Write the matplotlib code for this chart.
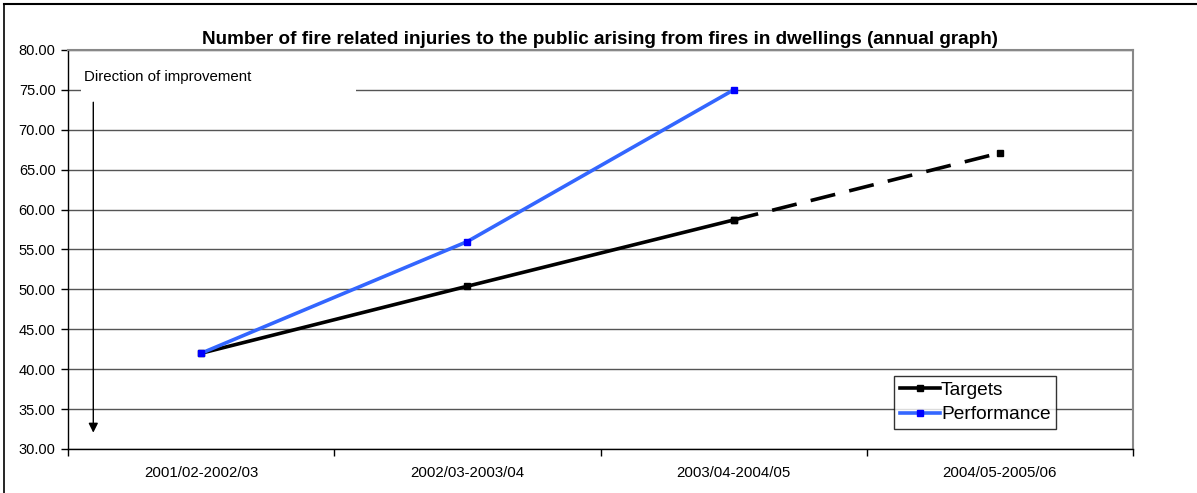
import matplotlib.pyplot as plt
from matplotlib.lines import Line2D
from matplotlib.patches import Rectangle

plt.rcParams['font.family'] = ['Liberation Sans', 'DejaVu Sans']

periods = ['2001/02-2002/03', '2002/03-2003/04', '2003/04-2004/05', '2004/05-2005/06']
targets = [42.0, 50.4, 58.7, 67.1]
performance = [42.0, 56.0, 75.0]
y_ticks = [30, 35, 40, 45, 50, 55, 60, 65, 70, 75, 80]

fig = plt.figure(figsize=(11.97, 4.93), dpi=100)
ax = fig.add_axes([68 / 1197, 1 - 449 / 493, 1065 / 1197, 399 / 493])

x = list(range(len(periods)))

# targets: solid up to the current year, dashed afterwards
ax.plot(x[:3], targets[:3], color='black', lw=2.6, marker='s', ms=5,
        zorder=4)
ax.plot(x[2:], targets[2:], color='black', lw=2.6, marker='s', ms=5,
        dashes=(7, 4), zorder=4)
ax.plot(x[:3], performance, color='#3366FF', lw=2.6, marker='s', ms=5,
        mfc='#0000FF', mec='#0000FF', zorder=5)

ax.set_xlim(-0.5, 3.5)
ax.set_ylim(30, 80)
ax.set_yticks(y_ticks)
ax.set_yticklabels(['%.2f' % v for v in y_ticks], fontsize=10.5)
ax.set_xticks(x)
ax.set_xticklabels(periods, fontsize=10.8)
ax.set_xticks([-0.5, 0.5, 1.5, 2.5, 3.5], minor=True)
ax.tick_params(axis='x', which='major', length=0, pad=12)
ax.tick_params(axis='x', which='minor', length=5, direction='out', width=1)
ax.tick_params(axis='y', length=5, direction='out', width=1, pad=4)

ax.grid(axis='y', color='#555555', lw=1)
ax.set_axisbelow(True)
for side in ['top', 'right']:
    ax.spines[side].set_color('#888888')
    ax.spines[side].set_linewidth(1.5)
for side in ['left', 'bottom']:
    ax.spines[side].set_color('black')
    ax.spines[side].set_linewidth(1)

ax.set_title('Number of fire related injuries to the public arising from fires in dwellings (annual graph)',
             fontsize=13.6, fontweight='bold', pad=4)

# direction of improvement note
ax.add_patch(Rectangle((-0.45, 73.2), 1.03, 4.0, facecolor='white',
                       edgecolor='none', zorder=2))
ax.text(-0.44, 75.8, 'Direction of improvement', fontsize=10.8, va='bottom',
        zorder=3)
ax.annotate('', xy=(-0.405, 31.7), xytext=(-0.405, 73.8),
            arrowprops=dict(arrowstyle='-|>', color='black', lw=1,
                            mutation_scale=14), zorder=3)

handles = [Line2D([], [], color='black', lw=2.6, marker='s', ms=5),
           Line2D([], [], color='#3366FF', lw=2.6, marker='s', ms=5,
                  mfc='#0000FF', mec='#0000FF')]
leg = ax.legend(handles, ['Targets', 'Performance'], fontsize=13.8,
                loc='lower left', bbox_to_anchor=(0.7756, 0.05),
                frameon=True, fancybox=False, handlelength=2.1,
                handletextpad=0.05, borderpad=0.3, labelspacing=0.35,
                borderaxespad=0)
leg.get_frame().set_edgecolor('black')
leg.get_frame().set_linewidth(1)
leg.set_zorder(6)

# outer frame of the page
fig.add_artist(Line2D([4 / 1197, 1], [1 - 4 / 493, 1 - 4 / 493],
                      transform=fig.transFigure, color='black', lw=1.5))
fig.add_artist(Line2D([4 / 1197, 4 / 1197], [0, 1 - 4 / 493],
                      transform=fig.transFigure, color='black', lw=1.2))

fig.savefig('out.png', dpi=100)
